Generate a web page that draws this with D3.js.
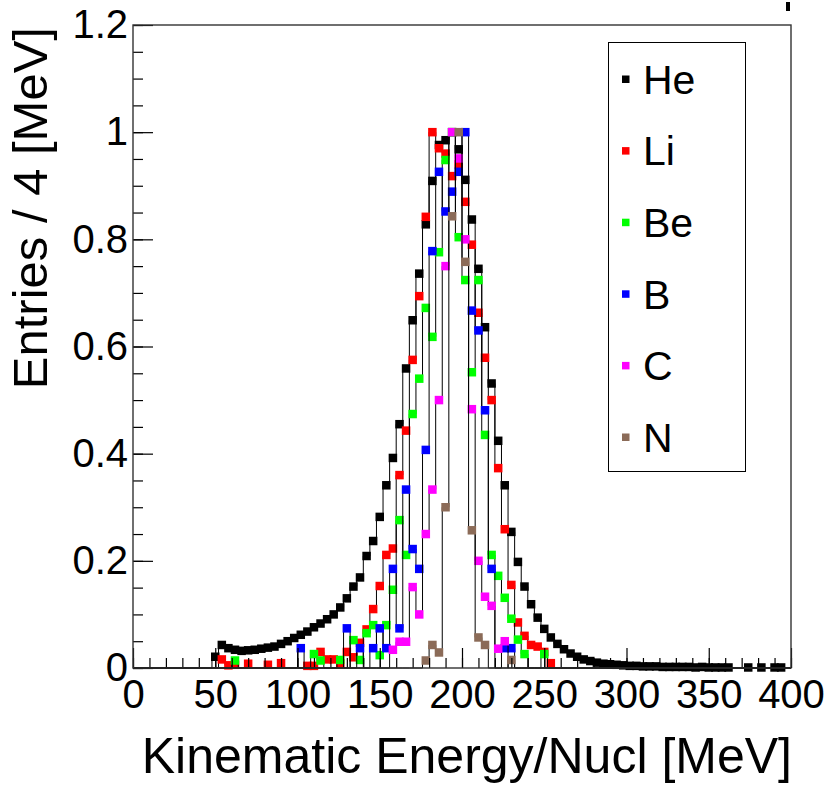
<!DOCTYPE html>
<html>
<head>
<meta charset="utf-8">
<script src="https://cdn.jsdelivr.net/npm/d3@7"></script>
<style>
  body { margin: 0; background: #fff; }
  svg { display: block; }
  text { font-family: "Liberation Sans", Arial, Helvetica, sans-serif; fill: #000; }
</style>
</head>
<body>
<svg id="chart" width="829" height="786"></svg>
<script>
// bin width of every histogram, in MeV
const binWidth = 4;
const xTicks = [0, 50, 100, 150, 200, 250, 300, 350, 400];
const yTicks = [0, 0.2, 0.4, 0.6, 0.8, 1, 1.2];

const names = ["He", "Li", "Be", "B", "C", "N"];
const colors = ["#000000", "#ff0000", "#00ff00", "#0000ff", "#ff00ff", "#8b6b58"];

// [bin centre (MeV), normalised entries], empty bins left out
const heData = [
  [50, 0.021], [54, 0.043], [58, 0.037], [62, 0.034], [66, 0.032], [70, 0.033],
  [74, 0.034], [78, 0.036], [82, 0.038], [86, 0.040], [90, 0.045], [94, 0.050],
  [98, 0.056], [102, 0.062], [106, 0.068], [110, 0.076], [114, 0.083], [118, 0.091],
  [122, 0.100], [126, 0.113], [130, 0.130], [134, 0.152], [138, 0.169], [142, 0.209],
  [146, 0.237], [150, 0.282], [154, 0.341], [158, 0.392], [162, 0.455], [166, 0.559],
  [170, 0.649], [174, 0.736], [178, 0.828], [182, 0.909], [186, 0.976], [190, 0.985],
  [194, 1.000], [198, 0.968], [202, 0.911], [206, 0.837], [210, 0.745], [214, 0.636],
  [218, 0.531], [222, 0.424], [226, 0.341], [230, 0.254], [234, 0.198], [238, 0.152],
  [242, 0.119], [246, 0.094], [250, 0.073], [254, 0.057], [258, 0.045], [262, 0.035],
  [266, 0.027], [270, 0.021], [274, 0.016], [278, 0.013], [282, 0.010], [286, 0.008],
  [290, 0.007], [294, 0.006], [298, 0.005], [302, 0.004], [306, 0.004], [310, 0.003],
  [314, 0.003], [318, 0.003], [322, 0.002], [326, 0.002], [330, 0.002], [334, 0.002],
  [338, 0.002], [342, 0.001], [346, 0.002], [350, 0.001], [354, 0.001], [358, 0.001],
  [362, 0.001], [374, 0.001], [382, 0.001], [390, 0.001], [394, 0.001]
];
const liData = [
  [54, 0.016], [58, 0.005], [62, 0.006], [70, 0.008], [82, 0.006], [90, 0.009],
  [106, 0.004], [110, 0.004], [114, 0.030], [118, 0.016], [122, 0.016], [126, 0.009],
  [130, 0.030], [134, 0.020], [138, 0.047], [142, 0.072], [146, 0.110], [150, 0.153],
  [154, 0.211], [158, 0.223], [162, 0.360], [166, 0.443], [170, 0.575], [174, 0.694],
  [178, 0.842], [182, 1.000], [186, 0.970], [190, 0.960], [194, 0.918], [198, 0.940],
  [202, 0.870], [206, 0.790], [210, 0.663], [214, 0.579], [218, 0.500], [222, 0.373],
  [226, 0.259], [230, 0.155], [234, 0.085], [238, 0.060], [242, 0.043], [246, 0.040],
  [250, 0.030], [254, 0.009]
];
const beData = [
  [62, 0.014], [110, 0.026], [114, 0.014], [126, 0.015], [134, 0.052], [138, 0.015],
  [142, 0.065], [146, 0.080], [150, 0.024], [154, 0.080], [158, 0.146], [162, 0.276],
  [166, 0.211], [170, 0.474], [174, 0.540], [178, 0.672], [182, 0.618], [186, 0.776],
  [190, 0.948], [194, 1.000], [198, 0.804], [202, 0.724], [206, 0.552], [210, 0.724],
  [214, 0.435], [218, 0.211], [222, 0.172], [226, 0.131], [230, 0.092], [234, 0.053],
  [238, 0.026], [250, 0.026]
];
const bData = [
  [102, 0.037], [130, 0.074], [138, 0.037], [146, 0.037], [150, 0.074], [154, 0.037],
  [158, 0.185], [162, 0.074], [166, 0.333], [170, 0.222], [174, 0.185], [178, 0.407],
  [182, 0.778], [186, 0.926], [190, 0.852], [194, 0.889], [198, 0.926], [202, 1.000],
  [206, 0.667], [210, 0.630], [214, 0.481], [218, 0.185], [226, 0.037], [230, 0.037]
];
const cData = [
  [158, 0.034], [162, 0.049], [166, 0.049], [170, 0.151], [174, 0.100], [178, 0.250],
  [182, 0.333], [186, 0.500], [190, 0.750], [194, 1.000], [198, 0.951], [202, 0.800],
  [206, 0.483], [210, 0.200], [214, 0.133], [218, 0.116], [222, 0.036], [226, 0.050]
];
const nData = [
  [178, 0.014], [182, 0.043], [186, 0.029], [190, 0.300], [194, 0.843], [198, 1.000],
  [202, 0.758], [206, 0.257], [210, 0.057], [214, 0.043], [230, 0.015]
];

const series = [heData, liData, beData, bData, cData, nData];

const svg = d3.select("#chart");
const x = d3.scaleLinear().domain([0, 400]).range([133, 791]);
const y = d3.scaleLinear().domain([0, 1.2]).range([668, 25]);

// full bin contents over the axis range, zero where nothing was filled
function fillBins(points) {
  const n = Math.round((x.domain()[1] - x.domain()[0]) / binWidth);
  const bins = d3.range(n).map(i => ({ lo: i * binWidth, hi: (i + 1) * binWidth, v: 0 }));
  points.forEach(([c, v]) => {
    bins[Math.floor(c / binWidth)].v = v;
  });
  return bins;
}

function stepPoints(bins) {
  const pts = [[x(bins[0].lo), y(0)]];
  bins.forEach(b => {
    pts.push([x(b.lo), y(b.v)]);
    pts.push([x(b.hi), y(b.v)]);
  });
  pts.push([x(bins[bins.length - 1].hi), y(0)]);
  return pts;
}

const ms = 8.5;
const line = d3.line();

series.forEach((points, i) => {
  const g = svg.append("g").attr("class", "series-" + names[i]);
  g.append("path")
    .attr("d", line(stepPoints(fillBins(points))))
    .attr("fill", "none")
    .attr("stroke", "#000")
    .attr("stroke-width", 1);
  g.selectAll("rect")
    .data(points.filter(p => p[1] > 0))
    .join("rect")
    .attr("x", d => x(d[0]) - ms / 2)
    .attr("y", d => y(d[1]) - ms / 2)
    .attr("width", ms)
    .attr("height", ms)
    .attr("fill", colors[i]);
});

// axes, ticks pointing into the frame
const tickFont = 40;

const xMinor = svg.append("g").attr("transform", `translate(0,${y(0)})`)
  .call(d3.axisBottom(x).tickValues(d3.range(0, 401, 10)).tickSize(-10).tickFormat(""));
const xMajor = svg.append("g").attr("transform", `translate(0,${y(0)})`)
  .call(d3.axisBottom(x).tickValues(xTicks).tickSize(-20).tickPadding(12));
xMajor.selectAll("text").style("font-size", tickFont + "px");

const yMinor = svg.append("g").attr("transform", `translate(${x(0)},0)`)
  .call(d3.axisLeft(y).tickValues(d3.range(0, 25).map(k => k * 0.05)).tickSize(-10).tickFormat(""));
const yMajor = svg.append("g").attr("transform", `translate(${x(0)},0)`)
  .call(d3.axisLeft(y).tickValues(yTicks).tickSize(-20).tickPadding(5).tickFormat(d => String(d)));
yMajor.selectAll("text").style("font-size", tickFont + "px");

[xMinor, xMajor, yMinor, yMajor].forEach(a => {
  a.select(".domain").remove();
  a.selectAll("line").attr("stroke", "#000").attr("stroke-width", 1.2);
});

// frame
svg.append("rect")
  .attr("x", x(0)).attr("y", y(1.2))
  .attr("width", x(400) - x(0)).attr("height", y(0) - y(1.2))
  .attr("fill", "none").attr("stroke", "#333").attr("stroke-width", 1.4);

// stray mark above the frame, top right
svg.append("rect").attr("x", 786).attr("y", 2).attr("width", 4).attr("height", 9).attr("fill", "#000");

// axis titles
svg.append("text")
  .attr("x", 792).attr("y", 773)
  .attr("text-anchor", "end")
  .style("font-size", "50px")
  .text("Kinematic Energy/Nucl [MeV]");

svg.append("text")
  .attr("transform", "translate(47,27) rotate(-90)")
  .attr("text-anchor", "end")
  .style("font-size", "49px")
  .text("Entries / 4 [MeV]");

// legend
const legend = svg.append("g");
legend.append("rect")
  .attr("x", 608.5).attr("y", 42.5).attr("width", 137).attr("height", 429)
  .attr("fill", "#fff").attr("stroke", "#000").attr("stroke-width", 1);

names.forEach((name, i) => {
  const cy = 79 + i * 71.6;
  legend.append("rect")
    .attr("x", 622).attr("y", cy - 3.5).attr("width", 7.5).attr("height", 7.5)
    .attr("fill", colors[i]);
  legend.append("text")
    .attr("x", 643).attr("y", cy)
    .attr("dy", "0.36em")
    .style("font-size", "41px")
    .text(name);
});
</script>
</body>
</html>
